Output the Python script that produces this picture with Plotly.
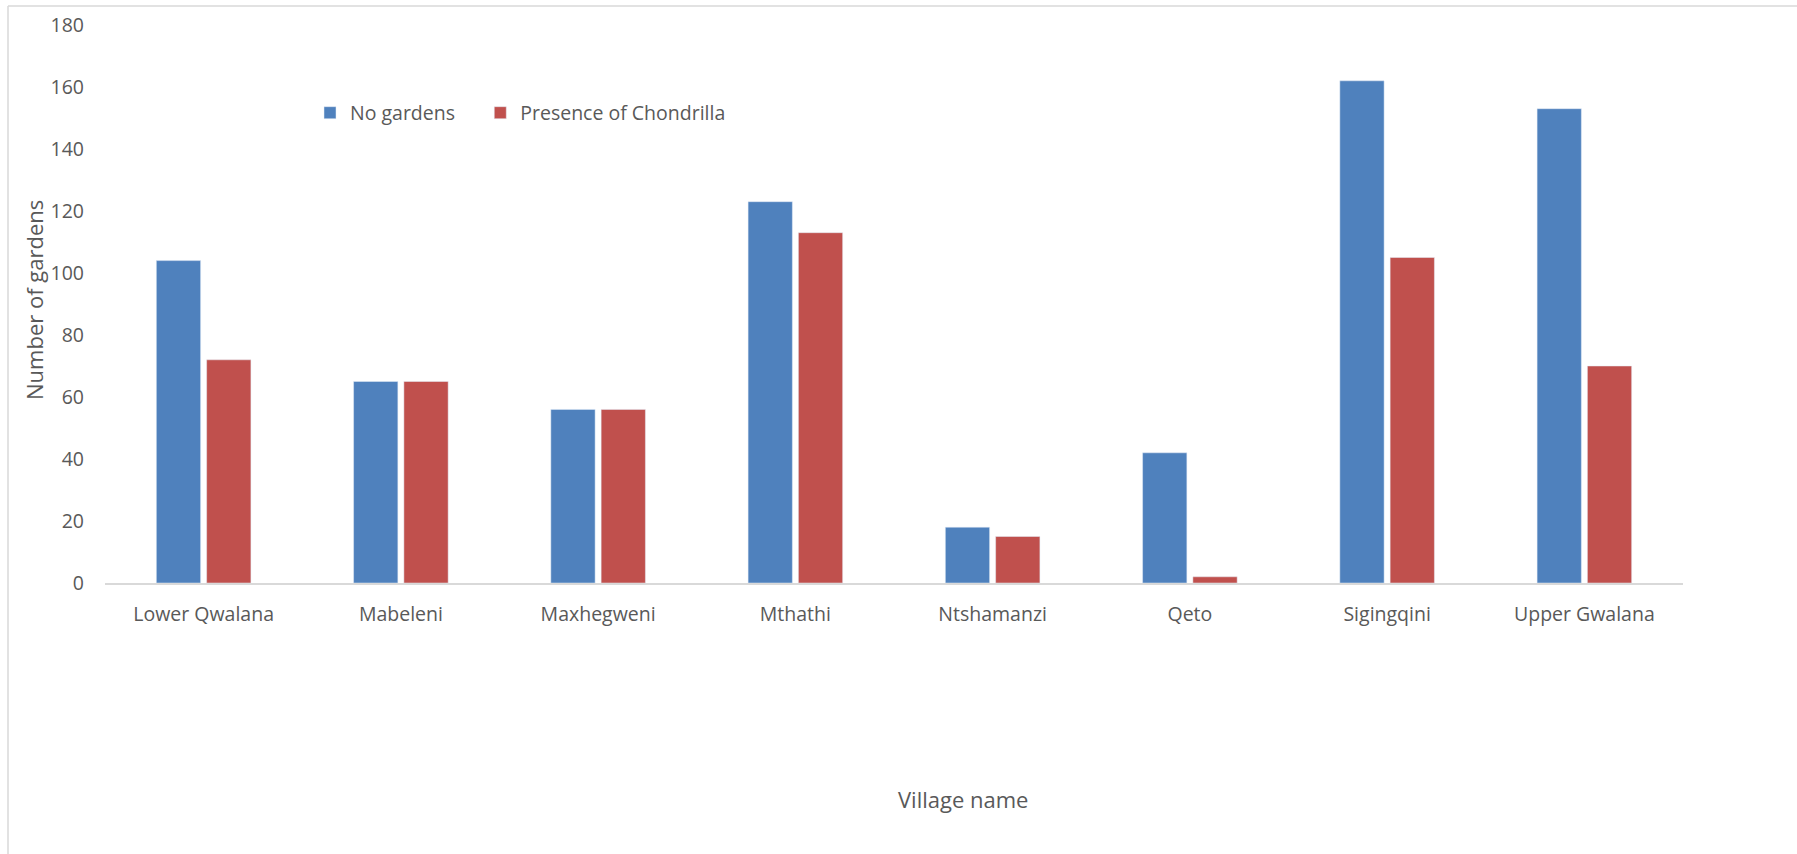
import plotly.graph_objects as go

villages = ["Lower Qwalana", "Mabeleni", "Maxhegweni", "Mthathi", "Ntshamanzi", "Qeto", "Sigingqini", "Upper Gwalana"]
no_gardens = [104, 65, 56, 123, 18, 42, 162, 153]
chondrilla = [72, 65, 56, 113, 15, 2, 105, 70]
y_ticks = [0, 20, 40, 60, 80, 100, 120, 140, 160, 180]

W, H = 1797, 854
L, R, T, B = 105, 114, 25, 271
pw, ph = W - L - R, H - T - B

def px_x(x):
    return (x - L) / pw

def px_y(y):
    return (H - B - y) / ph

font = "'Open Sans', sans-serif"
txt = "#595959"

fig = go.Figure()
fig.add_trace(go.Bar(x=villages, y=no_gardens, name="No gardens\u00a0\u00a0\u00a0\u00a0", marker_color="#4F81BD"))
fig.add_trace(go.Bar(x=villages, y=chondrilla, name="Presence of Chondrilla", marker_color="#C0504D"))

fig.update_layout(
    width=W, height=H,
    margin=dict(l=L, r=R, t=T, b=B, autoexpand=False),
    paper_bgcolor="white", plot_bgcolor="white",
    barmode="group", bargap=0.49, bargroupgap=0.12,
    font=dict(family=font, size=19, color=txt),
    legend=dict(orientation="h", x=px_x(310), y=px_y(113), xanchor="left", yanchor="middle",
                font=dict(size=19.5, color=txt), itemwidth=30, bgcolor="rgba(0,0,0,0)"),
    xaxis=dict(showgrid=False, showline=True, linecolor="#D9D9D9", linewidth=1.5,
               ticks="", tickfont=dict(size=19.5, color=txt), ticklabelstandoff=13),
    yaxis=dict(range=[0, 180], tickvals=y_ticks, showgrid=False, zeroline=False,
               showline=False, ticks="", tickfont=dict(size=19.5, color=txt), ticklabelstandoff=20),
    showlegend=True,
)

fig.add_annotation(text="Number of gardens", xref="paper", yref="paper",
                   x=px_x(34), y=px_y(300), textangle=-90, showarrow=False,
                   font=dict(size=22, color=txt), xanchor="center", yanchor="middle")
fig.add_annotation(text="Village name", xref="paper", yref="paper",
                   x=px_x(963), y=px_y(799), showarrow=False,
                   font=dict(size=22, color=txt), xanchor="center", yanchor="middle")

# chart area border
fig.add_shape(type="line", xref="paper", yref="paper", x0=px_x(8), x1=px_x(W + 5),
              y0=px_y(6), y1=px_y(6), line=dict(color="#D9D9D9", width=1.5))
fig.add_shape(type="line", xref="paper", yref="paper", x0=px_x(8), x1=px_x(8),
              y0=px_y(6), y1=px_y(H + 5), line=dict(color="#D9D9D9", width=1.5))

fig.write_html("out.html")
